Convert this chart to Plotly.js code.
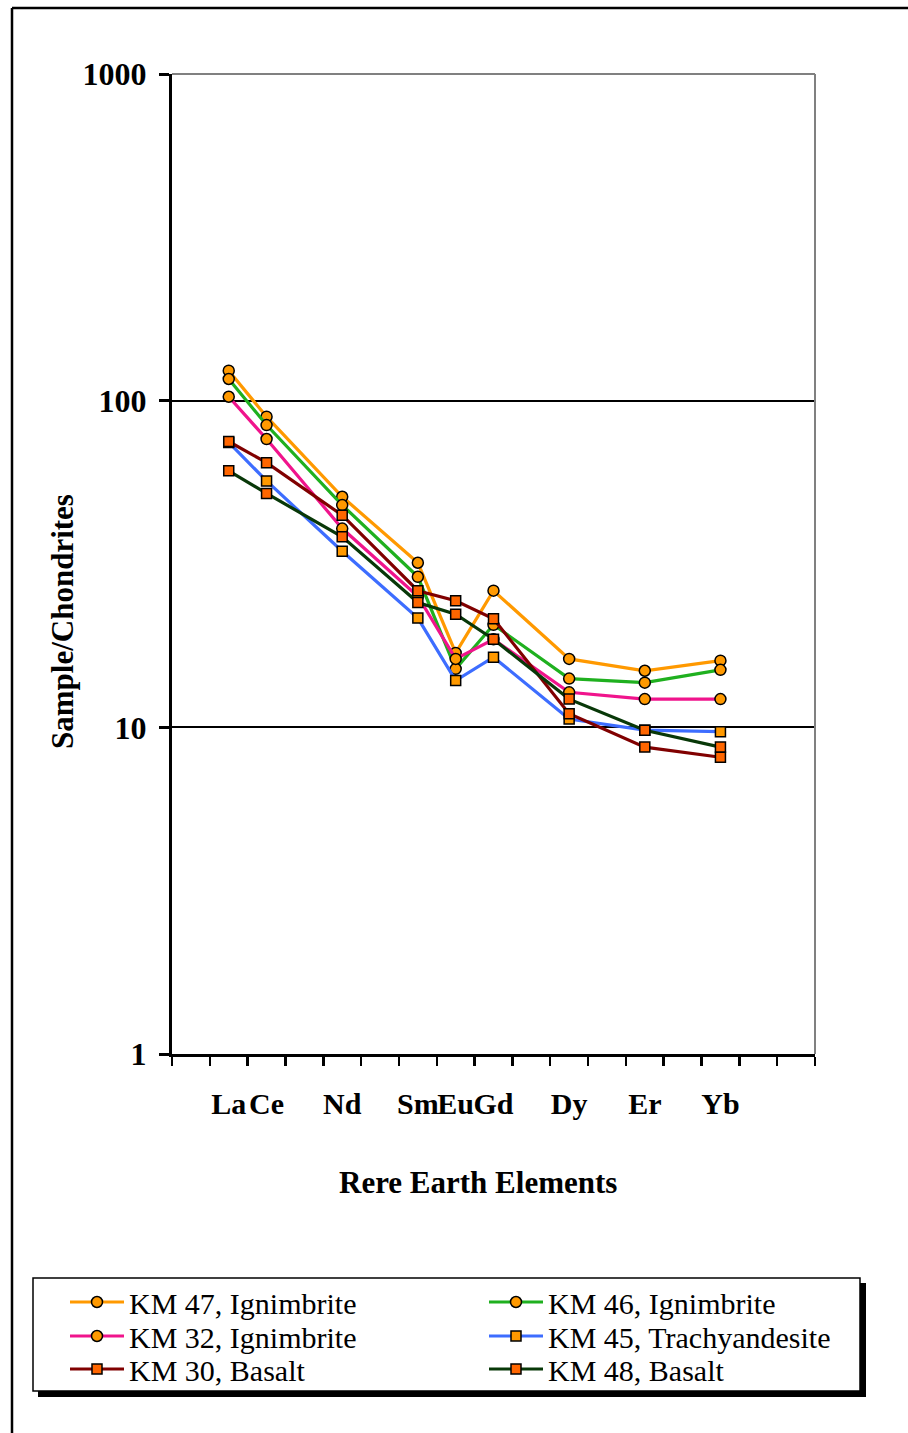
<!DOCTYPE html>
<html>
<head>
<meta charset="utf-8">
<script src="https://cdn.plot.ly/plotly-3.0.1.min.js"></script>
<style>
  html, body { margin: 0; padding: 0; background: #ffffff; }
  #chart { width: 908px; height: 1433px; }
</style>
</head>
<body>
<div id="chart"></div>
<script>
// ---- Data (chondrite-normalised REE) ----
const elements = ["La", "Ce", "Nd", "Sm", "Eu", "Gd", "Dy", "Er", "Yb"];
const atomicNumbers = [57, 58, 60, 62, 63, 64, 66, 68, 70];

const km47 = [123.5, 89.3, 50.8, 31.9, 16.9, 26.2, 16.2, 14.9, 16.0];
const km46 = [116.5, 84.2, 47.9, 28.9, 15.1, 20.6, 14.1, 13.7, 15.0];
const km32 = [102.8, 76.3, 40.6, 25.2, 16.2, 18.6, 12.8, 12.2, 12.2];
const km45 = [74.5, 56.8, 34.6, 21.6, 13.9, 16.4, 10.6, 9.8, 9.7];
const km30 = [75.0, 64.6, 44.6, 26.2, 24.4, 21.5, 11.0, 8.7, 8.1];
const km48 = [61.0, 52.0, 38.3, 24.1, 22.2, 18.6, 12.2, 9.8, 8.7];

const seriesNames = ["KM 47, Ignimbrite", "KM 46, Ignimbrite", "KM 32, Ignimbrite",
                     "KM 45, Trachyandesite", "KM 30, Basalt", "KM 48, Basalt"];
const yTickVals = [1, 10, 100, 1000];
const yTickText = ["1", "10", "100", "1000"];
const xTitle = "Rere Earth Elements";
const yTitle = "Sample/Chondrites";

// ---- Layout geometry ----
const W = 908, H = 1433;
const L = 172, R = 815, T = 74, B = 1054;
const px = x => (x - L) / (R - L);
const py = y => (B - y) / (B - T);

const serif = "Liberation Serif, Times New Roman, Times, serif";

function trace(name, values, lineColor, symbol, fill, legendId) {
  return {
    type: "scatter", mode: "lines+markers", name: name, legend: legendId,
    x: atomicNumbers, y: values,
    line: { color: lineColor, width: 3.2 },
    marker: { symbol: symbol, size: symbol === "circle" ? 11 : 10, color: fill,
              line: { color: "#000000", width: 1.5 } }
  };
}

const data = [
  trace(seriesNames[0], km47, "#FF9900", "circle", "#FF9900", "legend"),
  trace(seriesNames[1], km46, "#1FB01F", "circle", "#FF9900", "legend2"),
  trace(seriesNames[2], km32, "#F0148C", "circle", "#FF9900", "legend3"),
  trace(seriesNames[3], km45, "#3D6DFF", "square", "#FF9900", "legend4"),
  trace(seriesNames[4], km30, "#800000", "square", "#FF6600", "legend5"),
  trace(seriesNames[5], km48, "#083808", "square", "#FF6600", "legend6")
];

// legend entries laid out as a 2-column grid inside the boxed area
function legendCell(xLeft, yCenter) {
  return {
    orientation: "v", x: px(xLeft), y: py(yCenter), xanchor: "left", yanchor: "middle",
    bgcolor: "rgba(0,0,0,0)", borderwidth: 0,
    itemwidth: 54,
    font: { family: serif, size: 30, color: "#000000" },
    valign: "middle"
  };
}
const col1 = 65, col2 = 484;
const row1 = 1302, row2 = 1336, row3 = 1369;

const layout = {
  width: W, height: H, autosize: false,
  margin: { l: L, r: W - R, t: T, b: H - B, pad: 0, autoexpand: false },
  paper_bgcolor: "#ffffff", plot_bgcolor: "#ffffff",
  font: { family: serif, color: "#000000" },
  showlegend: true,
  xaxis: {
    range: [55.5, 72.5], type: "linear", automargin: false,
    tickmode: "array", tickvals: atomicNumbers, ticktext: elements,
    ticks: "", tickangle: 0, ticklabelstandoff: 21,
    tickfont: { family: serif, size: 30, weight: "bold", color: "#000000" },
    showline: true, linecolor: "#000000", linewidth: 3,
    showgrid: false, zeroline: false,
    minor: { tickmode: "linear", tick0: 55.5, dtick: 1, ticks: "outside",
             ticklen: 9, tickwidth: 2.5, tickcolor: "#000000", showgrid: false }
  },
  yaxis: {
    type: "log", range: [0, 3], automargin: false,
    tickmode: "array", tickvals: yTickVals, ticktext: yTickText,
    ticks: "outside", ticklen: 10, tickwidth: 3, tickcolor: "#000000",
    ticklabelstandoff: 6,
    tickfont: { family: serif, size: 32, weight: "bold", color: "#000000" },
    showline: true, linecolor: "#000000", linewidth: 3,
    showgrid: true, gridcolor: "#000000", gridwidth: 2, zeroline: false
  },
  legend: legendCell(col1, row1),
  legend2: legendCell(col2, row1),
  legend3: legendCell(col1, row2),
  legend4: legendCell(col2, row2),
  legend5: legendCell(col1, row3),
  legend6: legendCell(col2, row3),
  annotations: [
    { text: xTitle, xref: "paper", yref: "paper", x: px(478), y: py(1182),
      xanchor: "center", yanchor: "middle", showarrow: false,
      font: { family: serif, size: 31, weight: "bold", color: "#000000" } },
    { text: yTitle, xref: "paper", yref: "paper", x: px(62), y: py(622),
      xanchor: "center", yanchor: "middle", textangle: -90, showarrow: false,
      font: { family: serif, size: 31, weight: "bold", color: "#000000" } }
  ],
  shapes: [
    // outer frame (left and top edges)
    { type: "line", xref: "paper", yref: "paper", x0: px(12), x1: px(12), y0: py(H + 10), y1: py(8),
      line: { color: "#000000", width: 2.5 } },
    { type: "line", xref: "paper", yref: "paper", x0: px(12), x1: px(W + 10), y0: py(8), y1: py(8),
      line: { color: "#000000", width: 2.5 } },
    // grey plot-area border (top & right)
    { type: "line", xref: "paper", yref: "paper", x0: 0, x1: 1, y0: 1, y1: 1,
      line: { color: "#808080", width: 2 }, layer: "above" },
    { type: "line", xref: "paper", yref: "paper", x0: 1, x1: 1, y0: 0, y1: 1,
      line: { color: "#808080", width: 2 }, layer: "above" },
    // legend shadow and box
    { type: "rect", xref: "paper", yref: "paper", x0: px(38), x1: px(866), y0: py(1397), y1: py(1283),
      fillcolor: "#000000", line: { width: 0 } },
    { type: "rect", xref: "paper", yref: "paper", x0: px(33), x1: px(860), y0: py(1391), y1: py(1278),
      fillcolor: "#ffffff", line: { color: "#000000", width: 1.5 } }
  ]
};

Plotly.newPlot("chart", data, layout, { displayModeBar: false, staticPlot: true });
</script>
</body>
</html>
